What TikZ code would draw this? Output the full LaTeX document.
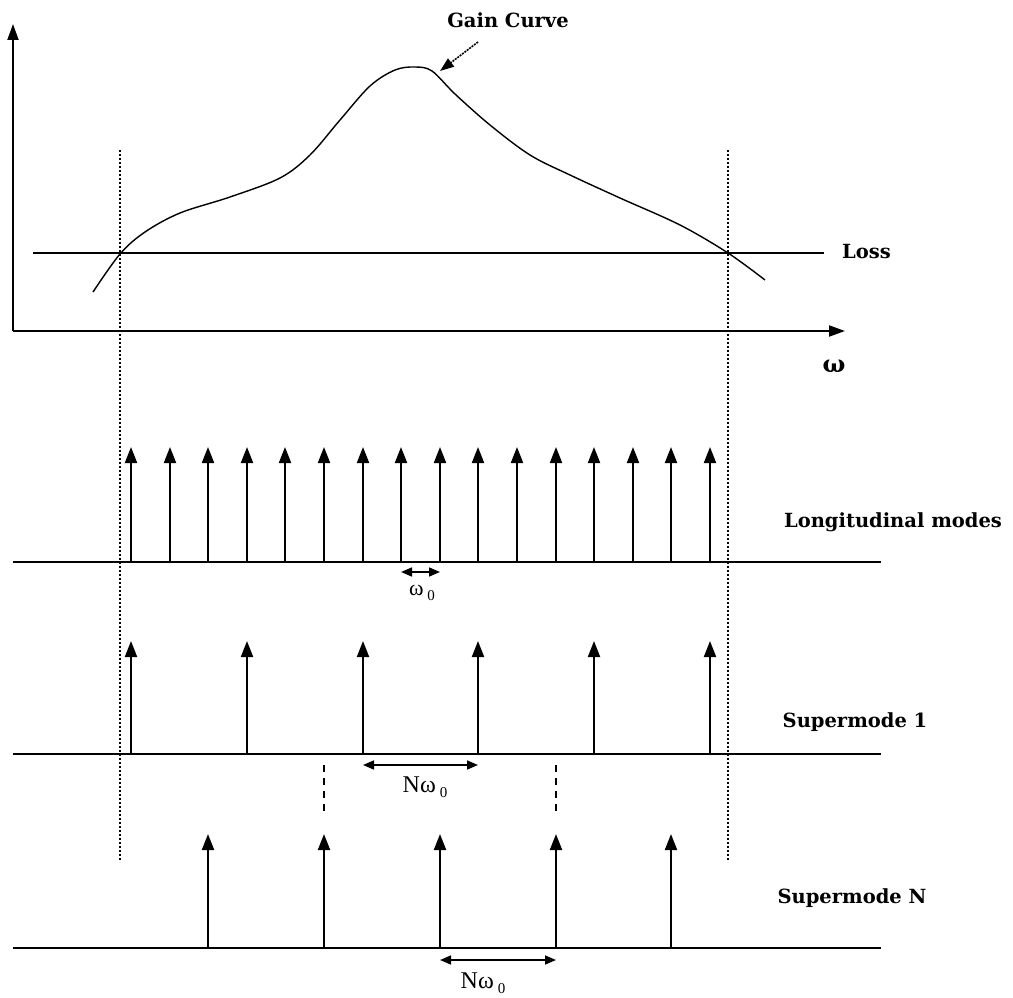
\documentclass[tikz,border=0pt]{standalone}
\usepackage{fontspec}
\setmainfont{Liberation Serif}
\newfontfamily\lblfont{DejaVu Serif}
\usetikzlibrary{arrows.meta}
\begin{document}
\begin{tikzpicture}[x=1pt,y=-1pt,
  axis/.style={line width=2pt},
  axisarrow/.style={line width=2pt,-{Triangle[length=16pt,width=11pt]}},
  modearrow/.style={line width=2pt,-{Triangle[length=16pt,width=12pt]}},
  guide/.style={line width=1.5pt,dash pattern=on 1.5pt off 2.5pt},
  dash guide/.style={line width=1.5pt,dash pattern=on 7pt off 6pt},
  lbl/.style={font=\lblfont\bfseries\fontsize{19.5}{22}\selectfont,inner sep=0pt},
  spacing/.style={line width=1.6pt,{Triangle[length=11pt,width=9pt]}-{Triangle[length=11pt,width=9pt]}},
  sublbl/.style={font=\fontsize{24}{26}\selectfont,inner sep=0pt},
  curve/.style={line width=1.4pt}]
\useasboundingbox (0,0) rectangle (1013,998);
% axes
\coordinate (O) at (13,331);
\coordinate (Ytip) at (13,24);
\coordinate (Xtip) at (845,331);
\draw[axisarrow] (O) -- (Ytip);
\draw[axisarrow] (O) -- (Xtip);
\node[lbl,font=\lblfont\bfseries\fontsize{24}{26}\selectfont] (omega) at (834,366) {ω};
% loss line
\coordinate (L1) at (33,253);
\coordinate (L2) at (824,253);
\draw[axis] (L1) -- (L2);
\node[lbl,anchor=west] (loss) at (842,252) {Loss};
% dotted guides
\coordinate (G1t) at (120,150);
\coordinate (G1b) at (120,862);
\coordinate (G2t) at (728,150);
\coordinate (G2b) at (728,862);
\draw[guide] (G1t) -- (G1b);
\draw[guide] (G2t) -- (G2b);
% gain curve
\draw[curve] plot[smooth,tension=0.55] coordinates {
 (93,292) (120,254) (145,232) (180,213) (230,197) (280,178) (310,155)
 (340,120) (370,86) (395,70) (415,67) (432,71) (455,94) (490,125)
 (530,155) (570,175) (620,198) (680,225) (728,253) (765,280)};
\node[lbl] (gain) at (508,20) {Gain Curve};
\coordinate (gaintip) at (440,71);
\draw[line width=1.6pt,dash pattern=on 2pt off 1pt,-{Triangle[length=14pt,width=10pt]}] (478,42) -- (gaintip);
% longitudinal modes
\coordinate (B1a) at (13,562);
\coordinate (B1b) at (881,562);
\draw[axis] (B1a) -- (B1b);
\foreach \i in {0,...,15}{
  \coordinate (l\i b) at ({round(131+38.6*\i)},562);
  \coordinate (l\i t) at ({round(131+38.6*\i)},447);
  \draw[modearrow] (l\i b) -- (l\i t);
}
\node[lbl] (longlbl) at (893,522) {Longitudinal modes};
\coordinate (w0a) at ({round(131+38.6*7)},572);
\coordinate (w0b) at ({round(131+38.6*8)},572);
\draw[spacing] (w0a) -- (w0b);
\node[sublbl,font=\fontsize{22}{24}\selectfont] (w0) at (422,593) {ω\,\raisebox{-5pt}{\fontsize{15}{15}\selectfont 0}};
% supermode 1
\coordinate (B2a) at (13,754);
\coordinate (B2b) at (881,754);
\draw[axis] (B2a) -- (B2b);
\foreach \i in {0,3,6,9,12,15}{
  \coordinate (s\i b) at ({round(131+38.6*\i)},754);
  \coordinate (s\i t) at ({round(131+38.6*\i)},641);
  \draw[modearrow] (s\i b) -- (s\i t);
}
\node[lbl] (sm1) at (855,722) {Supermode 1};
\coordinate (n1a) at ({round(131+38.6*6)},765);
\coordinate (n1b) at ({round(131+38.6*9)},765);
\draw[spacing] (n1a) -- (n1b);
\node[sublbl] (nw1) at (425,787) {Nω\,\raisebox{-5pt}{\fontsize{15}{15}\selectfont 0}};
% dashed guides
\coordinate (d1t) at ({round(131+38.6*5)},765);
\coordinate (d1b) at ({round(131+38.6*5)},812);
\coordinate (d2t) at ({round(131+38.6*11)},765);
\coordinate (d2b) at ({round(131+38.6*11)},812);
\draw[dash guide] (d1t) -- (d1b);
\draw[dash guide] (d2t) -- (d2b);
% supermode N
\coordinate (B3a) at (13,948);
\coordinate (B3b) at (881,948);
\draw[axis] (B3a) -- (B3b);
\foreach \i in {2,5,8,11,14}{
  \coordinate (t\i b) at ({round(131+38.6*\i)},948);
  \coordinate (t\i t) at ({round(131+38.6*\i)},834);
  \draw[modearrow] (t\i b) -- (t\i t);
}
\node[lbl] (smN) at (852,898) {Supermode N};
\coordinate (n2a) at ({round(131+38.6*8)},960);
\coordinate (n2b) at ({round(131+38.6*11)},960);
\draw[spacing] (n2a) -- (n2b);
\node[sublbl] (nw2) at (483,983) {Nω\,\raisebox{-5pt}{\fontsize{15}{15}\selectfont 0}};
\end{tikzpicture}
\end{document}
